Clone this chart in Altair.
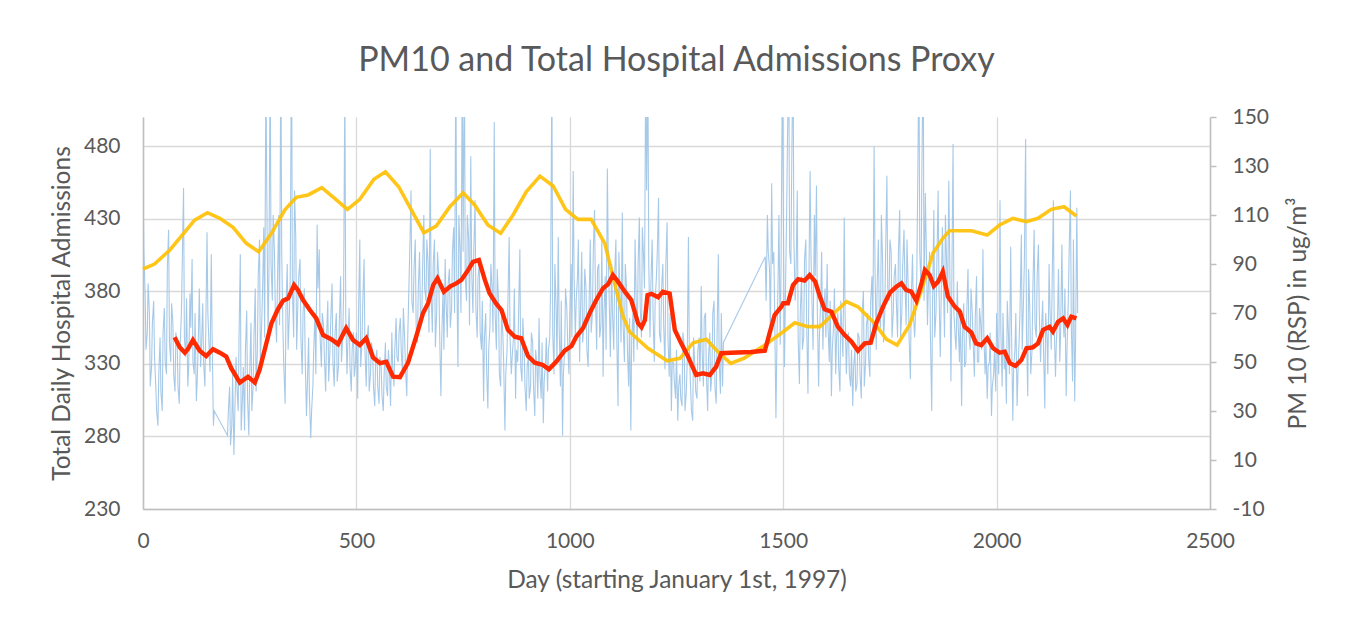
import altair as alt
import pandas as pd

# ---------------- data ----------------
# Yellow: admissions proxy (left axis)
adm_day = [0, 27, 63, 121, 151, 180, 211, 242, 271, 301,
           332, 359, 387, 419, 449, 479, 508, 541, 568, 599,
           629, 658, 687, 719, 750, 777, 808, 838, 867, 898,
           930, 961, 990, 1019, 1050, 1082, 1105, 1125, 1140, 1183,
           1228, 1258, 1289, 1320, 1347, 1377, 1408, 1457, 1500, 1527,
           1558, 1586, 1617, 1648, 1675, 1714, 1742, 1767, 1796, 1824,
           1851, 1874, 1890, 1941, 1978, 2007, 2038, 2070, 2097, 2128,
           2158, 2187]
adm_val = [395.3, 398.7, 408.4, 429.0, 434.1, 430.2, 424.0, 413.0, 407.2, 419.9,
           435.9, 444.7, 446.3, 451.3, 444.0, 436.4, 443.3, 457.1, 462.3, 452.0,
           435.9, 420.3, 424.9, 438.2, 447.8, 439.4, 425.6, 419.9, 432.5, 448.5,
           459.3, 452.5, 436.4, 429.5, 429.5, 413.0, 385.4, 362.4, 352.1, 340.7,
           332.1, 333.8, 344.5, 346.9, 338.3, 330.3, 333.8, 342.9, 352.1, 358.3,
           355.6, 355.6, 364.3, 372.8, 369.3, 357.9, 346.9, 342.9, 356.7, 380.8,
           406.1, 416.4, 421.7, 421.7, 418.7, 425.6, 430.2, 427.9, 430.2, 436.4,
           438.2, 431.8]

# Red: moving average of PM10 (right axis)
ma_day = [74, 86, 98, 105, 117, 133, 148, 164, 180, 195,
          207, 227, 246, 262, 273, 285, 301, 316, 328, 340,
          354, 363, 375, 391, 406, 422, 441, 457, 476, 492,
          508, 523, 539, 555, 570, 586, 602, 621, 640, 656,
          668, 680, 690, 705, 721, 734, 746, 762, 773, 787,
          801, 812, 828, 840, 855, 871, 886, 902, 918, 937,
          951, 968, 988, 1004, 1015, 1031, 1047, 1062, 1078, 1090,
          1101, 1113, 1129, 1144, 1160, 1168, 1176, 1182, 1191, 1207,
          1218, 1234, 1246, 1261, 1277, 1296, 1312, 1328, 1343, 1355,
          1378, 1425, 1457, 1468, 1480, 1496, 1500, 1511, 1523, 1535,
          1550, 1562, 1575, 1586, 1597, 1613, 1628, 1644, 1660, 1675,
          1691, 1705, 1718, 1734, 1750, 1765, 1777, 1788, 1800, 1812,
          1824, 1832, 1843, 1853, 1863, 1874, 1886, 1902, 1914, 1925,
          1941, 1952, 1964, 1978, 1992, 2007, 2019, 2031, 2044, 2058,
          2070, 2085, 2097, 2109, 2124, 2132, 2144, 2156, 2166, 2175,
          2187]
ma_val = [60.1, 56.0, 53.8, 55.2, 59.0, 54.6, 52.4, 55.2, 53.8, 52.2,
          47.4, 41.6, 44.0, 41.6, 46.7, 54.9, 65.8, 71.5, 75.0, 76.0,
          81.4, 79.4, 75.3, 71.2, 67.8, 61.0, 59.3, 57.3, 63.8, 59.0,
          56.9, 59.7, 51.9, 49.5, 50.1, 44.0, 43.8, 49.7, 60.3, 69.9,
          74.0, 81.4, 84.2, 78.7, 81.0, 82.1, 83.5, 87.6, 90.9, 91.6,
          83.5, 78.0, 73.7, 71.2, 63.1, 60.3, 59.7, 52.4, 49.7, 48.8,
          47.0, 50.1, 54.6, 56.5, 60.3, 63.8, 70.1, 75.3, 80.1, 81.8,
          85.5, 82.8, 78.7, 75.3, 65.8, 64.2, 67.1, 77.3, 77.8, 76.4,
          78.7, 78.0, 63.1, 57.6, 52.2, 44.7, 45.4, 44.7, 48.1, 53.6,
          53.8, 54.1, 54.6, 61.7, 69.2, 72.6, 74.0, 74.0, 81.4, 83.8,
          83.2, 85.5, 82.8, 76.7, 71.5, 70.5, 64.4, 61.0, 58.3, 54.6,
          57.6, 57.9, 65.8, 72.6, 78.3, 80.7, 82.1, 79.4, 78.7, 75.0,
          82.1, 87.6, 85.5, 81.0, 82.8, 86.9, 76.7, 72.6, 70.5, 64.4,
          62.0, 57.6, 56.9, 59.7, 55.6, 53.8, 54.2, 49.5, 48.4, 50.8,
          55.6, 56.0, 57.6, 63.1, 64.4, 62.4, 66.4, 67.8, 65.1, 68.5,
          67.8]

# Blue: daily PM10 readings (right axis). Three runs of readings taken every
# 5 days, plus the in-between readings (2 days later) for each run.
pm_step = 5
pm_mid_shift = 2
pm_a_start = 0
pm_a = [125, 78, 62, 70, 48, 75, 40, 24, 60, 30,
        72, 45, 104, 50, 66, 38, 58, 33, 70, 121,
        52, 40, 78, 92, 45, 34, 62, 48, 74, 40,
        103, 55, 94, 24]
pm_a_mid = [95, 55, 82, 40, 66, 52, 30, 45, 38, 62,
            50, 88, 58, 74, 45, 62, 40, 56, 90, 60,
            76, 48, 64, 50, 70, 42, 80, 56, 50, 62,
            70, 46, 60, 30]
pm_b_start = 198
pm_b = [20, 40, 24, 12, 52, 30, 94, 35, 22, 71,
        20, 66, 40, 80, 55, 100, 65, 105, 170, 60,
        175, 75, 95, 58, 110, 180, 62, 33, 90, 70,
        190, 60, 100, 75, 92, 45, 80, 28, 60, 19,
        40, 70, 106, 96, 48, 65, 38, 75, 55, 82,
        40, 70, 48, 85, 60, 165, 45, 72, 38, 62,
        50, 35, 100, 58, 92, 40, 65, 45, 55, 32,
        55, 33, 48, 30, 58, 36, 44, 62, 40, 68,
        50, 68, 45, 60, 36, 80, 120, 70, 100, 58,
        95, 65, 110, 75, 90, 137, 62, 100, 70, 85,
        36, 80, 92, 60, 88, 72, 105, 175, 48, 95,
        170, 180, 75, 100, 134, 70, 116, 60, 90, 55,
        34, 70, 31, 65, 80, 148, 55, 75, 40, 62,
        22, 55, 101, 45, 60, 35, 50, 96, 42, 55,
        30, 52, 40, 58, 28, 48, 68, 35, 25, 50,
        38, 60, 170, 45, 72, 101, 40, 20, 55, 72,
        45, 90, 128, 60, 85, 50, 95, 65, 80, 48,
        100, 70, 112, 55, 90, 65, 44, 85, 129, 70,
        90, 55, 100, 32, 75, 111, 50, 80, 40, 22,
        70, 100, 55, 109, 60, 92, 175, 170, 60, 100,
        50, 85, 117, 58, 90, 47, 107, 44, 30, 50,
        35, 26, 45, 32, 57, 38, 101, 40, 26, 48,
        35, 60, 81, 40, 70, 30, 62, 45, 75, 33,
        94, 37, 40]
pm_b_mid = [30, 16, 45, 28, 40, 60, 22, 48, 55, 35,
            45, 30, 60, 38, 85, 50, 78, 60, 120, 85,
            90, 110, 70, 82, 65, 95, 48, 72, 55, 85,
            80, 120, 55, 85, 60, 70, 52, 40, 35, 30,
            55, 45, 80, 60, 70, 52, 60, 42, 68, 50,
            62, 42, 66, 50, 78, 70, 58, 48, 55, 44,
            62, 70, 48, 75, 55, 60, 38, 58, 40, 50,
            40, 52, 36, 45, 40, 55, 32, 48, 55, 52,
            62, 55, 72, 48, 58, 95, 75, 88, 65, 80,
            70, 88, 80, 100, 62, 78, 90, 56, 95, 62,
            60, 55, 75, 82, 64, 95, 70, 88, 110, 70,
            95, 85, 110, 65, 88, 95, 72, 85, 62, 75,
            60, 48, 55, 90, 62, 70, 88, 45, 70, 50,
            45, 75, 60, 52, 80, 55, 70, 48, 68, 40,
            48, 35, 62, 40, 55, 35, 45, 58, 42, 60,
            55, 80, 62, 90, 50, 65, 75, 45, 80, 58,
            70, 60, 85, 75, 100, 70, 58, 88, 55, 72,
            62, 95, 78, 88, 60, 100, 70, 55, 95, 52,
            70, 85, 60, 95, 58, 65, 90, 55, 68, 60,
            50, 80, 90, 72, 105, 80, 120, 90, 82, 70,
            75, 95, 62, 80, 65, 90, 60, 70, 50, 42,
            55, 40, 35, 62, 30, 50, 55, 30, 60, 38,
            55, 42, 55, 68, 45, 52, 38, 70, 40, 60,
            50, 70, 58]
pm_c_start = 1458
pm_c = [93, 110, 88, 123, 95, 27, 84, 57, 170, 48,
        110, 175, 90, 180, 75, 120, 41, 85, 60, 100,
        37, 128, 70, 110, 122, 40, 75, 55, 80, 90,
        50, 36, 65, 45, 70, 38, 60, 109, 45, 62,
        40, 32, 55, 41, 60, 35, 79, 50, 70, 44,
        85, 138, 55, 100, 64, 90, 70, 126, 75, 95,
        71, 90, 60, 112, 70, 104, 65, 80, 43, 94,
        60, 85, 175, 80, 180, 119, 65, 95, 30, 112,
        70, 120, 52, 105, 60, 90, 124, 42, 139, 60,
        83, 50, 32, 74, 50, 88, 55, 70, 44, 85,
        50, 65, 96, 45, 35, 50, 28, 45, 38, 55,
        116, 40, 47, 33, 60, 97, 26, 55, 32, 60,
        102, 75, 141, 36, 70, 55, 104, 60, 98, 50,
        75, 31, 60, 90, 55, 116, 44, 70, 50, 98,
        60, 36, 75, 120, 42, 34, 113]
pm_c_mid = [75, 95, 60, 90, 70, 55, 110, 90, 120, 75,
            140, 95, 130, 100, 85, 60, 70, 55, 92, 65,
            80, 95, 55, 85, 70, 62, 95, 70, 60, 65,
            75, 55, 80, 60, 48, 75, 52, 70, 58, 45,
            55, 48, 38, 62, 45, 70, 40, 65, 52, 75,
            62, 90, 80, 70, 110, 58, 95, 80, 100, 60,
            85, 75, 95, 60, 90, 85, 100, 60, 75, 70,
            70, 120, 95, 130, 75, 100, 80, 60, 75, 60,
            90, 80, 75, 85, 110, 70, 95, 80, 70, 55,
            65, 72, 60, 48, 70, 62, 80, 58, 68, 50,
            72, 55, 62, 58, 48, 62, 40, 55, 70, 45,
            62, 70, 55, 75, 45, 62, 48, 70, 45, 72,
            55, 90, 62, 88, 45, 80, 65, 85, 70, 62,
            55, 70, 45, 72, 80, 65, 58, 88, 62, 70,
            80, 55, 95, 65, 100, 58, 70]

x_ticks = [0, 500, 1000, 1500, 2000, 2500]
left_ticks = [230, 280, 330, 380, 430, 480]
right_ticks = [-10, 10, 30, 50, 70, 90, 110, 130, 150]

# ---------------- tables ----------------
pm_days, pm_vals = [], []
for start, vals, mids in [(pm_a_start, pm_a, pm_a_mid),
                          (pm_b_start, pm_b, pm_b_mid),
                          (pm_c_start, pm_c, pm_c_mid)]:
    pm_days += [start + pm_step * i for i in range(len(vals))]
    pm_vals += vals
    pm_days += [start + pm_mid_shift + pm_step * i for i in range(len(mids))]
    pm_vals += mids
pm_df = pd.DataFrame({"day": pm_days, "pm": pm_vals}).sort_values("day")
ma_df = pd.DataFrame({"day": ma_day, "pm": ma_val})
adm_df = pd.DataFrame({"day": adm_day, "adm": adm_val})

TXT = "#595959"
GRID = "#d9d9d9"
AXC = "#bfbfbf"
FONT = "Lato"
PLAIN = "'' + datum.value"

x_enc = alt.X(
    "day:Q",
    scale=alt.Scale(domain=[0, 2500], nice=False),
    axis=alt.Axis(
        values=x_ticks, title="Day (starting January 1st, 1997)", grid=True,
        gridColor=GRID, gridWidth=1.3, domainColor=AXC, domainWidth=1.5,
        ticks=False, tickSize=0, labelPadding=21, labelFontSize=21,
        labelColor=TXT, labelExpr=PLAIN, labelFlush=False,
        titleFontSize=24.5, titleColor=TXT,
        titleFontWeight="normal", titleY=71, titleBaseline="middle",
    ),
)

pm_scale = alt.Scale(domain=[-10, 150], nice=False, zero=False)

blue = alt.Chart(pm_df).mark_line(
    color="#9dc3e6", strokeWidth=1.1, clip=True, opacity=0.9
).encode(
    x=x_enc,
    y=alt.Y(
        "pm:Q", scale=pm_scale,
        axis=alt.Axis(
            orient="right", values=right_ticks, title="PM 10 (RSP) in ug/m³",
            grid=False, domainColor=AXC, domainWidth=1.5, ticks=True,
            tickSize=6, tickColor=AXC, tickWidth=1.5, labelPadding=16,
            labelFontSize=21, labelColor=TXT, labelExpr=PLAIN,
            labelFlush=False,
            titleFontSize=24.5, titleColor=TXT, titleFontWeight="normal",
            titleAngle=270, titleX=88, titleY=196, titleBaseline="middle",
            titleAlign="center",
        ),
    ),
)

yellow = alt.Chart(adm_df).mark_line(
    color="#ffc000", strokeWidth=3.6, opacity=0.9
).encode(
    x=alt.X("day:Q"),
    y=alt.Y(
        "adm:Q", scale=alt.Scale(domain=[230, 500], nice=False, zero=False),
        axis=alt.Axis(
            orient="left", values=left_ticks,
            title="Total Daily Hospital Admissions", grid=True,
            gridColor=GRID, gridWidth=1.3, domainColor=AXC, domainWidth=1.5,
            ticks=False, tickSize=0, labelPadding=23, labelFontSize=21,
            labelColor=TXT, labelExpr=PLAIN, labelFlush=False,
            titleFontSize=24.5,
            titleColor=TXT, titleFontWeight="normal", titleAngle=270,
            titleX=-81, titleY=196, titleBaseline="middle", titleAlign="center",
        ),
    ),
)

red = alt.Chart(ma_df).mark_line(
    color="#ff2a00", strokeWidth=4.4
).encode(
    x=alt.X("day:Q"),
    y=alt.Y("pm:Q", scale=pm_scale, axis=None),
)

chart = alt.layer(blue, yellow, red).resolve_scale(
    y="independent"
).properties(
    width=1067,
    height=392,
    title=alt.TitleParams(
        "PM10 and Total Hospital Admissions Proxy", fontSize=34, font=FONT,
        color=TXT, fontWeight="normal", anchor="middle", offset=45,
        baseline="alphabetic", frame="group", dy=44,
    ),
    padding={"left": 135, "top": 109, "right": 128, "bottom": 110},
    autosize=alt.AutoSizeParams(type="none"),
).configure(
    font=FONT
).configure_view(
    stroke=None
)

chart.save("out.html", embed_options={"renderer": "svg", "actions": False})
